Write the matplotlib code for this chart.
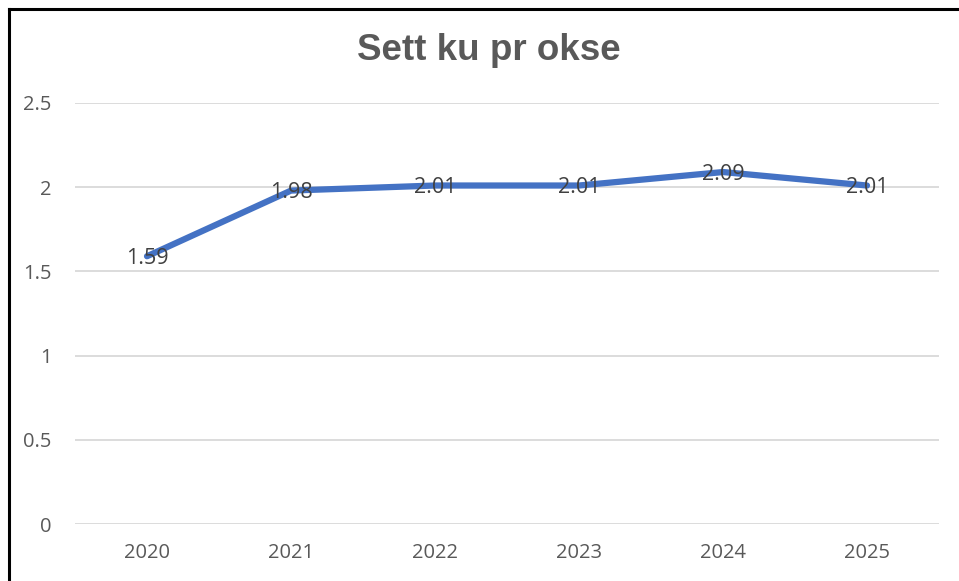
import matplotlib
matplotlib.use("Agg")
import matplotlib.pyplot as plt
from matplotlib.lines import Line2D

years = ["2020", "2021", "2022", "2023", "2024", "2025"]
values = [1.59, 1.98, 2.01, 2.01, 2.09, 2.01]
yticks = [0, 0.5, 1, 1.5, 2, 2.5]
ytick_labels = ["0", "0.5", "1", "1.5", "2", "2.5"]
title = "Sett ku pr okse"

fig = plt.figure(figsize=(9.59, 5.81), dpi=100)
ax = fig.add_axes([75/959, 1-524/581, (939-75)/959, (524-103)/581])

x = list(range(len(years)))
ax.plot(x, values, color="#4472C4", linewidth=4.5, solid_capstyle="round", zorder=3)
for xi, v in zip(x, values):
    ax.annotate(f"{v:.2f}", (xi, v), xytext=(0, -1.5), textcoords="offset points",
                ha="center", va="center", fontsize=15.5,
                family="Open Sans", color="#404040", zorder=4)

ax.set_xlim(-0.5, len(years) - 0.5)
ax.set_ylim(0, 2.5)
ax.set_yticks(yticks)
ax.set_yticklabels(ytick_labels)
ax.set_xticks(x)
ax.set_xticklabels(years)
ax.grid(axis="y", color="#D9D9D9", linewidth=1.3, zorder=0)
ax.set_axisbelow(True)
for s in ax.spines.values():
    s.set_visible(False)
ax.tick_params(axis="both", length=0, labelsize=14.5, labelcolor="#595959")
ax.tick_params(axis="y", pad=17)
ax.tick_params(axis="x", pad=14)
for lbl in ax.get_xticklabels() + ax.get_yticklabels():
    lbl.set_family("Open Sans")

fig.text(489/959, 1-50/581, title, ha="center", va="center", fontsize=26.5,
         fontweight="bold", family="Liberation Sans", color="#595959")

# border (left and top edges visible in reference)
fig.add_artist(Line2D([9/959, 9/959], [0, 1-9/581], transform=fig.transFigure,
                      color="black", linewidth=2.2))
fig.add_artist(Line2D([9/959, 1], [1-9/581, 1-9/581], transform=fig.transFigure,
                      color="black", linewidth=2.2))

fig.savefig("out.png", dpi=100)
